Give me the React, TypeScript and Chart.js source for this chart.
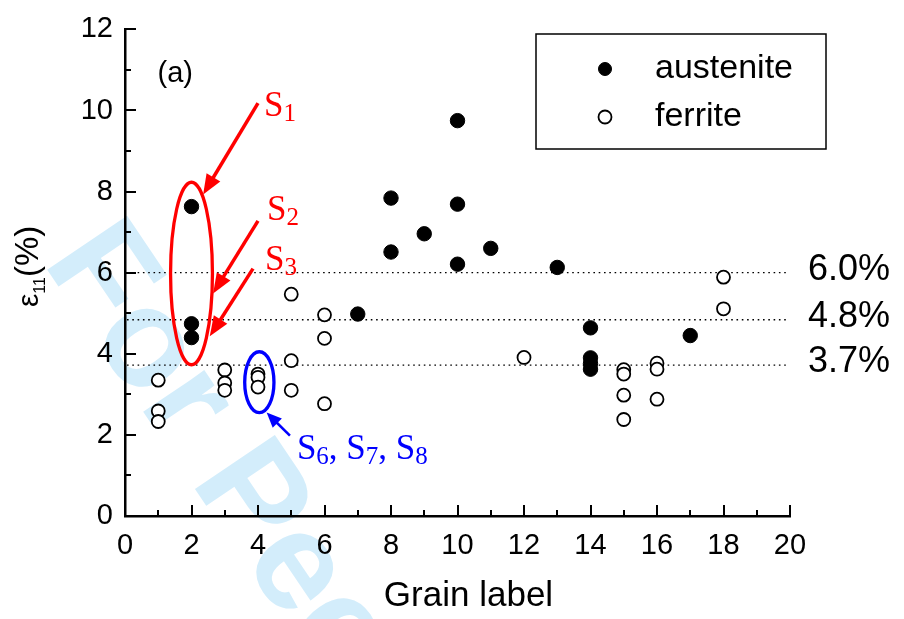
import React, { useEffect, useRef } from "react";
import { Chart, registerables } from "chart.js";

Chart.register(...registerables);

// ---------- data ----------
const austeniteX = [2, 2, 2, 7, 8, 8, 9, 10, 10, 10, 11, 13, 14, 14, 14, 14, 17];
const austeniteY = [7.63, 4.74, 4.4, 4.98, 7.84, 6.51, 6.96, 9.75, 7.69, 6.21, 6.6, 6.13, 4.64, 3.9, 3.76, 3.62, 4.45];
const ferriteX = [1, 1, 1, 3, 3, 3, 4, 4, 4, 5, 5, 5, 6, 6, 6, 12, 15, 15, 15, 15, 16, 16, 16, 18, 18];
const ferriteY = [3.35, 2.59, 2.33, 3.6, 3.28, 3.1, 3.5, 3.42, 3.18, 5.47, 3.83, 3.1, 4.96, 4.38, 2.77, 3.91, 3.61, 3.5, 2.98, 2.38, 3.77, 3.62, 2.88, 5.89, 5.11];
const seriesLabels = ["austenite", "ferrite"];
const refLevels = [6.0, 4.84, 3.72];
const refLabels = ["6.0%", "4.8%", "3.7%"];
const xTitle = "Grain label";
const panelLabel = "(a)";
const watermark = "For Peer Review";

const SANS = "'Liberation Sans', Arial, sans-serif";
const SERIF = "'Liberation Serif', 'Times New Roman', serif";

type Run = [string, number, number];

function drawRuns(ctx: CanvasRenderingContext2D, x: number, y: number, runs: Run[], color: string, family: string) {
  ctx.save();
  ctx.fillStyle = color;
  ctx.textBaseline = "alphabetic";
  ctx.textAlign = "left";
  let cx = x;
  for (const [t, size, dy] of runs) {
    ctx.font = `${size}px ${family}`;
    ctx.fillText(t, cx, y + dy);
    cx += ctx.measureText(t).width;
  }
  ctx.restore();
}

function drawArrow(ctx: CanvasRenderingContext2D, x1: number, y1: number, x2: number, y2: number, color: string, lw: number, headLen: number, headW: number) {
  const ang = Math.atan2(y2 - y1, x2 - x1);
  const bx = x2 - Math.cos(ang) * headLen;
  const by = y2 - Math.sin(ang) * headLen;
  ctx.save();
  ctx.strokeStyle = color;
  ctx.fillStyle = color;
  ctx.lineWidth = lw;
  ctx.beginPath();
  ctx.moveTo(x1, y1);
  ctx.lineTo(bx + Math.cos(ang) * 2, by + Math.sin(ang) * 2);
  ctx.stroke();
  ctx.beginPath();
  ctx.moveTo(x2, y2);
  ctx.lineTo(bx + Math.sin(ang) * headW, by - Math.cos(ang) * headW);
  ctx.lineTo(bx - Math.sin(ang) * headW, by + Math.cos(ang) * headW);
  ctx.closePath();
  ctx.fill();
  ctx.restore();
}

// annotation geometry in data units
const redEllipse = { cx: 2, cy: 5.98, rx: 0.63, ry: 2.25 };
const blueEllipse = { cx: 4.04, cy: 3.3, rx: 0.44, ry: 0.75 };
const redArrows = [
  [4.0, 10.18, 2.35, 7.93],
  [4.0, 7.28, 2.65, 5.49],
  [3.85, 6.1, 2.55, 4.43],
];
const blueArrow = [4.96, 1.98, 4.26, 2.55];

const decorPlugin = {
  id: "decor",
  beforeDraw(chart: any) {
    const ctx: CanvasRenderingContext2D = chart.ctx;
    ctx.save();
    ctx.fillStyle = "#ffffff";
    ctx.fillRect(0, 0, chart.width, chart.height);
    // watermark
    ctx.translate(42, 262);
    ctx.rotate((56 * Math.PI) / 180);
    ctx.font = `bold 140px ${SANS}`;
    ctx.fillStyle = "#d3edfb";
    ctx.textBaseline = "alphabetic";
    ctx.fillText(watermark, 0, 0);
    ctx.restore();
  },
  beforeDatasetsDraw(chart: any) {
    const ctx: CanvasRenderingContext2D = chart.ctx;
    const ys = chart.scales.y;
    const { left, right } = chart.chartArea;
    ctx.save();
    ctx.strokeStyle = "#000";
    ctx.lineWidth = 1.3;
    ctx.setLineDash([1.6, 3.7]);
    refLevels.forEach((v) => {
      const y = ys.getPixelForValue(v);
      ctx.beginPath();
      ctx.moveTo(left + 2, y);
      ctx.lineTo(right - 3, y);
      ctx.stroke();
    });
    ctx.setLineDash([]);
    ctx.fillStyle = "#000";
    ctx.font = `36px ${SANS}`;
    ctx.textBaseline = "middle";
    ctx.textAlign = "left";
    refLevels.forEach((v, i) => {
      const y = ys.getPixelForValue(v);
      ctx.fillText(refLabels[i], right + 18, y - 3);
    });
    ctx.restore();
  },
  afterDatasetsDraw(chart: any) {
    const ctx: CanvasRenderingContext2D = chart.ctx;
    const xs = chart.scales.x;
    const ys = chart.scales.y;
    const px = (v: number) => xs.getPixelForValue(v);
    const py = (v: number) => ys.getPixelForValue(v);
    const unitX = px(1) - px(0);
    const unitY = py(0) - py(1);
    ctx.save();
    ctx.lineWidth = 3.3;
    ctx.strokeStyle = "#ff0000";
    ctx.beginPath();
    ctx.ellipse(px(redEllipse.cx), py(redEllipse.cy), redEllipse.rx * unitX, redEllipse.ry * unitY, 0, 0, Math.PI * 2);
    ctx.stroke();
    ctx.strokeStyle = "#0000ff";
    ctx.beginPath();
    ctx.ellipse(px(blueEllipse.cx), py(blueEllipse.cy), blueEllipse.rx * unitX, blueEllipse.ry * unitY, 0, 0, Math.PI * 2);
    ctx.stroke();
    ctx.restore();
    redArrows.forEach(([a, b, c, d]) => drawArrow(ctx, px(a), py(b), px(c), py(d), "#ff0000", 3.5, 20, 8));
    drawArrow(ctx, px(blueArrow[0]), py(blueArrow[1]), px(blueArrow[2]), py(blueArrow[3]), "#0000ff", 2.5, 15, 6.5);
    drawRuns(ctx, px(4.18), py(9.86), [["S", 35, 0], ["1", 25, 5]], "#ff0000", SERIF);
    drawRuns(ctx, px(4.27), py(7.31), [["S", 35, 0], ["2", 25, 5]], "#ff0000", SERIF);
    drawRuns(ctx, px(4.21), py(6.07), [["S", 35, 0], ["3", 25, 5]], "#ff0000", SERIF);
    drawRuns(
      ctx,
      px(5.17),
      py(1.415),
      [["S", 35, 0], ["6", 25, 5], [", ", 35, 0], ["S", 35, 0], ["7", 25, 5], [", ", 35, 0], ["S", 35, 0], ["8", 25, 5]],
      "#0000ff",
      SERIF
    );
    ctx.save();
    ctx.fillStyle = "#000";
    ctx.font = `29px ${SANS}`;
    ctx.textBaseline = "middle";
    ctx.fillText(panelLabel, px(0.98), py(10.89));
    ctx.restore();
  },
  afterDraw(chart: any) {
    const ctx: CanvasRenderingContext2D = chart.ctx;
    const xs = chart.scales.x;
    const ys = chart.scales.y;
    const { left, right, bottom } = chart.chartArea;
    ctx.save();
    ctx.strokeStyle = "#000";
    ctx.lineWidth = 2;
    for (let v = 1; v <= 20; v++) {
      const x = Math.round(xs.getPixelForValue(v));
      const len = v % 2 === 0 ? 11 : 6;
      ctx.beginPath();
      ctx.moveTo(x, bottom);
      ctx.lineTo(x, bottom - len);
      ctx.stroke();
    }
    for (let v = 1; v <= 12; v++) {
      const y = Math.round(ys.getPixelForValue(v));
      const len = v % 2 === 0 ? 11 : 6;
      ctx.beginPath();
      ctx.moveTo(left, y);
      ctx.lineTo(left + len, y);
      ctx.stroke();
    }
    ctx.restore();
    // x-axis title
    ctx.save();
    ctx.fillStyle = "#000";
    ctx.font = `35px ${SANS}`;
    ctx.textAlign = "center";
    ctx.textBaseline = "middle";
    ctx.fillText(xTitle, (left + right) / 2 + 11, 596);
    ctx.restore();
    // y-axis title with subscript
    ctx.save();
    ctx.translate(38, 307);
    ctx.rotate(-Math.PI / 2);
    drawRuns(ctx, 0, 0, [["ε", 30, 0], ["11", 16, 7], ["(%)", 33, 0]], "#000", SANS);
    ctx.restore();
    // legend
    ctx.save();
    ctx.strokeStyle = "#000";
    ctx.lineWidth = 1.5;
    ctx.strokeRect(536, 34, 290, 115);
    const ds = chart.data.datasets;
    const rows = [69, 117];
    ds.forEach((d: any, i: number) => {
      ctx.beginPath();
      ctx.arc(605, rows[i], 6.5, 0, Math.PI * 2);
      ctx.fillStyle = d.backgroundColor;
      ctx.fill();
      ctx.lineWidth = d.borderWidth;
      ctx.strokeStyle = d.borderColor;
      ctx.stroke();
      ctx.fillStyle = "#000";
      ctx.font = `34px ${SANS}`;
      ctx.textBaseline = "middle";
      ctx.textAlign = "left";
      ctx.fillText(d.label, 655, rows[i]);
    });
    ctx.restore();
  },
};

export default function App() {
  const ref = useRef<HTMLCanvasElement>(null);
  useEffect(() => {
    document.body.style.margin = "0";
    const canvas = ref.current!;
    const chart = new Chart(canvas, {
      type: "scatter",
      data: {
        datasets: [
          {
            label: seriesLabels[0],
            data: austeniteX.map((x, i) => ({ x, y: austeniteY[i] })),
            backgroundColor: "#000000",
            borderColor: "#000000",
            borderWidth: 1,
            pointRadius: 7.2,
            order: 1,
          },
          {
            label: seriesLabels[1],
            data: ferriteX.map((x, i) => ({ x, y: ferriteY[i] })),
            backgroundColor: "#ffffff",
            borderColor: "#000000",
            borderWidth: 1.8,
            pointRadius: 6.5,
            order: 2,
          },
        ],
      },
      options: {
        responsive: false,
        animation: false,
        devicePixelRatio: 1,
        layout: { padding: { left: 0, right: 114, top: 25, bottom: 0 } },
        plugins: { legend: { display: false }, tooltip: { enabled: false } },
        scales: {
          x: {
            type: "linear",
            min: 0,
            max: 20,
            ticks: { stepSize: 2, font: { family: SANS, size: 29 }, color: "#000", padding: 13 },
            grid: { display: false, drawTicks: false },
            border: { display: true, color: "#000", width: 2.5 },
            title: { display: false },
            afterFit: (s: any) => {
              s.height = 103;
            },
          },
          y: {
            type: "linear",
            min: 0,
            max: 12,
            ticks: { stepSize: 2, font: { family: SANS, size: 29 }, color: "#000", padding: 12 },
            grid: { display: false, drawTicks: false },
            border: { display: true, color: "#000", width: 2.5 },
            afterFit: (s: any) => {
              s.width = 125;
            },
          },
        },
      } as any,
      plugins: [decorPlugin],
    });
    return () => chart.destroy();
  }, []);
  return (
    <div style={{ width: 904, height: 619 }}>
      <canvas ref={ref} width={904} height={619} style={{ display: "block", width: 904, height: 619 }} />
    </div>
  );
}
